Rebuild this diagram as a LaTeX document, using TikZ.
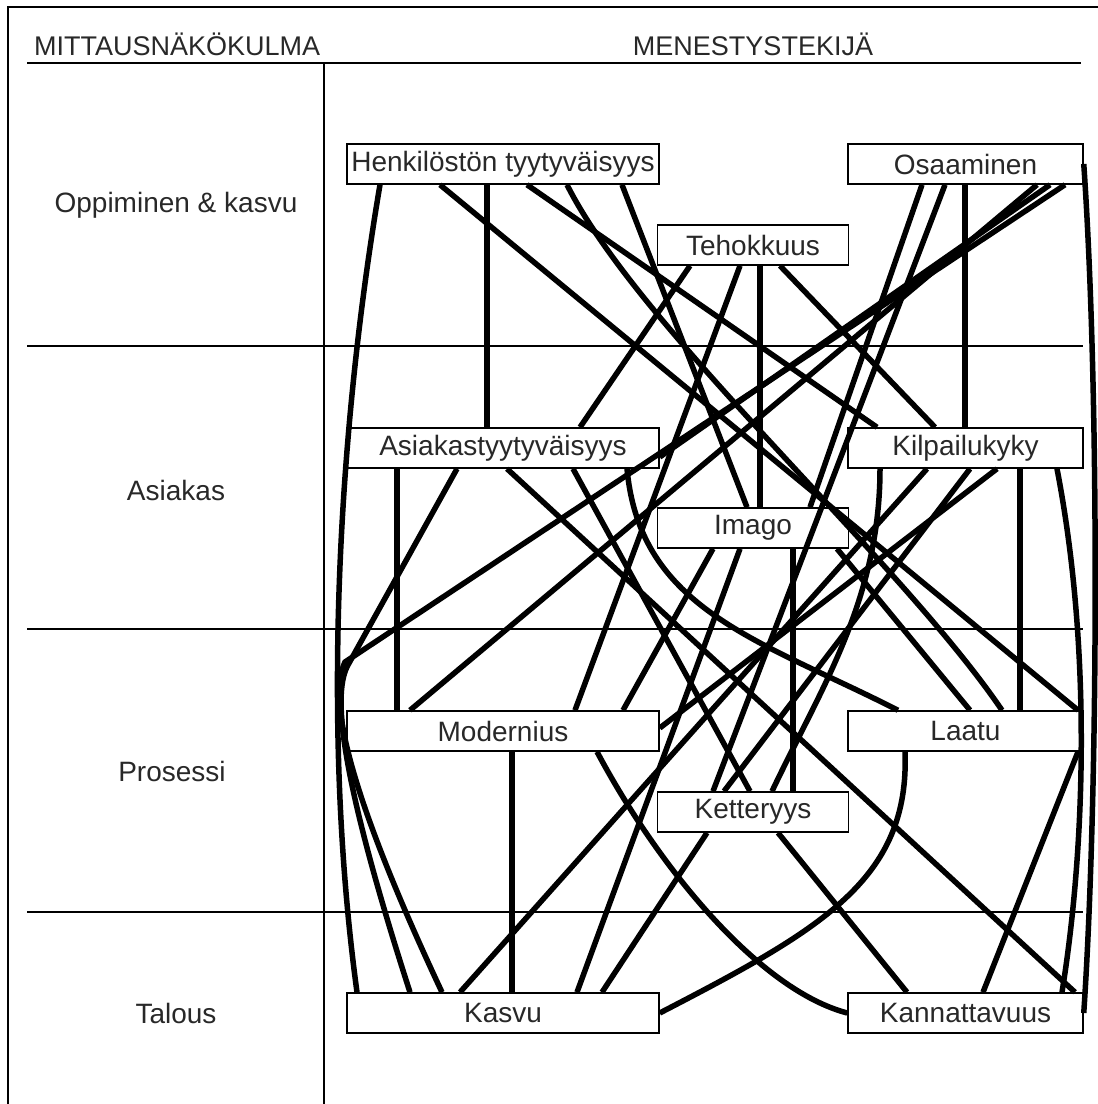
\documentclass[tikz,border=0pt]{standalone}
\usepackage{fontspec}
\setmainfont{Liberation Sans}
\usetikzlibrary{positioning}
\definecolor{tekstiharmaa}{RGB}{40,40,40}

\tikzset{
  tekija/.style={draw, line width=1.5pt, fill=white, minimum width=312pt, minimum height=40pt, inner sep=0pt, font=\fontsize{28}{30}\selectfont, text=tekstiharmaa},
  oikea/.style={tekija, minimum width=235pt},
  pieni/.style={tekija, minimum width=191pt},
  yhteys/.style={line width=5.5pt},
  raja/.style={line width=1.5pt},
  otsikko/.style={font=\fontsize{27}{29}\selectfont, inner sep=0pt, text=tekstiharmaa},
  rivi/.style={font=\fontsize{28}{30}\selectfont, text=tekstiharmaa},
}

\begin{document}
\begin{tikzpicture}[x=1pt, y=-1pt]
  \useasboundingbox (0,0) rectangle (1098,1104);
  % kehys ja jako
  \draw[raja] (1098,7) -- (8,7) -- (8,1104);
  \draw[raja] (27,63) -- (1081,63);
  \draw[raja] (324,63) -- (324,1104);
  \draw[raja] (27,346) -- (1083,346);
  \draw[raja] (27,629) -- (1083,629);
  \draw[raja] (27,912) -- (1083,912);

  \node[otsikko, anchor=base west] (mittaus) at (34,55) {MITTAUSNÄKÖKULMA};
  \node[otsikko, anchor=base] (menestys) at (753,55) {MENESTYSTEKIJÄ};

  \node[rivi] (oppiminen) at (176,205) {Oppiminen \& kasvu};
  \node[rivi] (asiakas) at (176,490) {Asiakas};
  \node[rivi] (prosessi) at (172,771) {Prosessi};
  \node[rivi] (talous) at (176,1013) {Talous};

  % tekijat
  \node[tekija] (H) at (503,164) {Henkilöstön tyytyväisyys};
  \node[oikea] (O) at (965.5,164) {Osaaminen};
  \node[pieni] (T) at (753,245) {Tehokkuus};
  \node[tekija] (A) at (503,448) {Asiakastyytyväisyys};
  \node[oikea] (K) at (965.5,448) {Kilpailukyky};
  \node[pieni] (I) at (753,528) {Imago};
  \node[tekija] (M) at (503,731) {Modernius};
  \node[oikea] (L) at (965.5,731) {Laatu};
  \node[pieni] (Ke) at (753,812) {Ketteryys};
  \node[tekija] (Ka) at (503,1013) {Kasvu};
  \node[oikea] (Kn) at (965.5,1013) {Kannattavuus};

  % yhteydet
  \draw[yhteys] (H.south -| 380,0) .. controls (340,420) and (320,720) .. (Ka.north -| 357,0);
  \draw[yhteys] (H.south -| 440,0) -- (L.north -| 1078,0);
  \draw[yhteys] (H.south -| 487,0) -- (A.north -| 487,0);
  \draw[yhteys] (H.south -| 527,0) -- (K.north -| 877,0);
  \draw[yhteys] (H.south -| 567,0) .. controls (640,330) and (900,560) .. (L.north -| 1002,0);
  \draw[yhteys] (H.south -| 622,0) -- (I.north -| 747,0);
  \draw[yhteys] (O.south -| 922,0) -- (I.north -| 810,0);
  \draw[yhteys] (O.south -| 945,0) -- (Ke.north -| 713,0);
  \draw[yhteys] (O.south -| 965,0) -- (K.north -| 965,0);
  \draw[yhteys] (O.south -| 1037,0) -- (M.north -| 410,0);
  \draw[yhteys] (O.south -| 1050,0) -- (A.east |- 0,457);
  \draw[yhteys] (O.south -| 1065,0) -- (345,662) .. controls (332,690) and (333,760) .. (Ka.north -| 442,0);
  \draw[yhteys] (O.east) .. controls (1100,400) and (1098,800) .. (Kn.east);
  \draw[yhteys] (T.south -| 690,0) -- (A.north -| 580,0);
  \draw[yhteys] (T.south -| 740,0) -- (M.north -| 575,0);
  \draw[yhteys] (T.south -| 760,0) -- (I.north -| 760,0);
  \draw[yhteys] (T.south -| 780,0) -- (K.north -| 935,0);
  \draw[yhteys] (A.south -| 397,0) -- (M.north -| 397,0);
  \draw[yhteys] (A.south -| 457,0) -- (348,665) .. controls (334,690) and (335,760) .. (Ka.north -| 410,0);
  \draw[yhteys] (A.south -| 507,0) -- (Kn.north -| 1075,0);
  \draw[yhteys] (A.south -| 573,0) -- (Ke.north -| 750,0);
  \draw[yhteys] (A.south -| 627,0) .. controls (640,610) and (760,640) .. (L.north -| 898,0);
  \draw[yhteys] (K.south -| 880,0) .. controls (880,600) and (820,690) .. (Ke.north -| 772,0);
  \draw[yhteys] (K.south -| 927,0) -- (Ka.north -| 460,0);
  \draw[yhteys] (K.south -| 970,0) -- (Ke.north -| 724,0);
  \draw[yhteys] (K.south -| 997,0) -- (M.east |- 0,728);
  \draw[yhteys] (K.south -| 1020,0) -- (L.north -| 1020,0);
  \draw[yhteys] (K.south -| 1057,0) .. controls (1092,650) and (1085,850) .. (Kn.north -| 1062,0);
  \draw[yhteys] (I.south -| 713,0) -- (M.north -| 623,0);
  \draw[yhteys] (I.south -| 740,0) -- (Ka.north -| 577,0);
  \draw[yhteys] (I.south -| 793,0) -- (Ke.north -| 793,0);
  \draw[yhteys] (I.south -| 837,0) -- (L.north -| 970,0);
  \draw[yhteys] (M.south -| 512,0) -- (Ka.north -| 512,0);
  \draw[yhteys] (M.south -| 597,0) .. controls (660,870) and (760,990) .. (Kn.west);
  \draw[yhteys] (Ke.south -| 707,0) -- (Ka.north -| 602,0);
  \draw[yhteys] (Ke.south -| 778,0) -- (Kn.north -| 907,0);
  \draw[yhteys] (Ka.east) .. controls (820,930) and (910,880) .. (L.south -| 905,0);
  \draw[yhteys] (Kn.north -| 983,0) -- (L.south -| 1078,0);
\end{tikzpicture}
\end{document}
